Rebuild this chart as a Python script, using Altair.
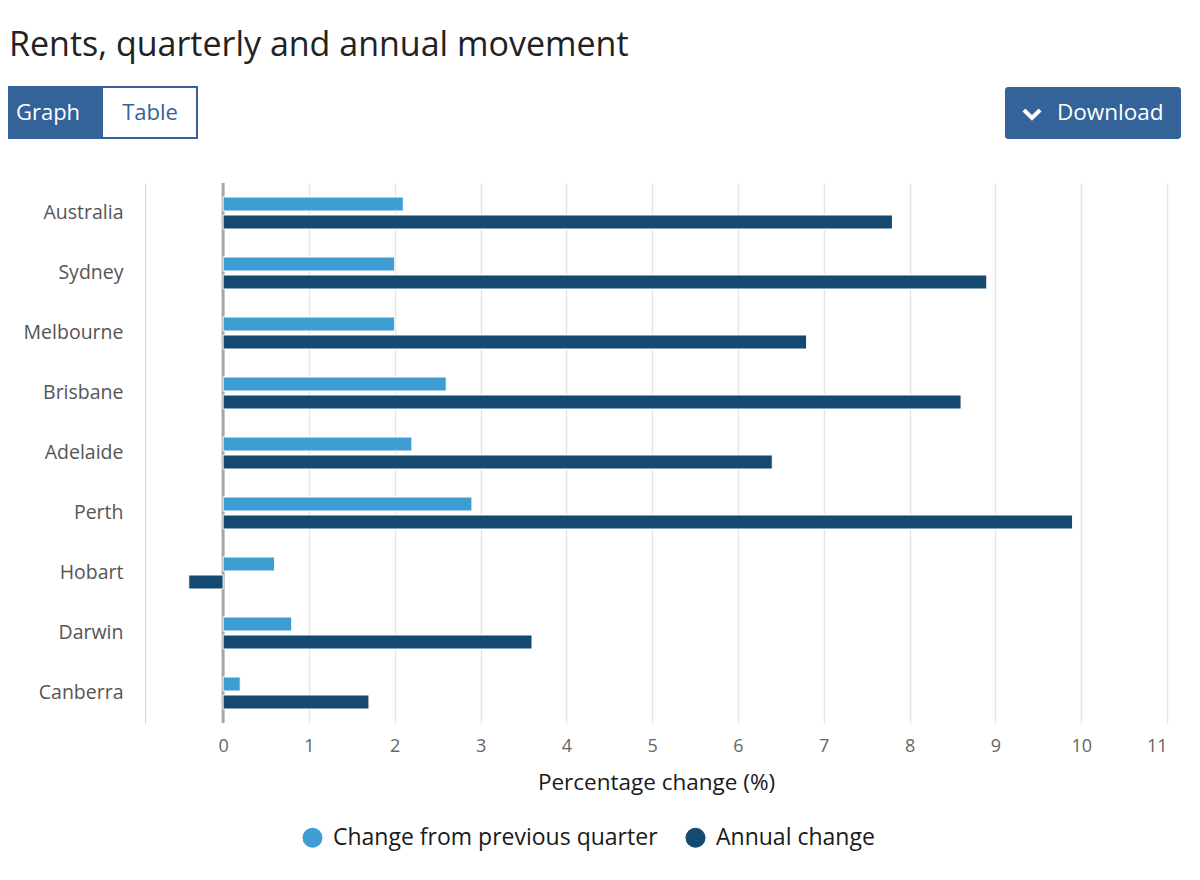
import altair as alt
import pandas as pd

cities = ["Australia", "Sydney", "Melbourne", "Brisbane", "Adelaide", "Perth", "Hobart", "Darwin", "Canberra"]
quarterly = [2.1, 2.0, 2.0, 2.6, 2.2, 2.9, 0.6, 0.8, 0.2]
annual = [7.8, 8.9, 6.8, 8.6, 6.4, 9.9, -0.4, 3.6, 1.7]
series_names = ["Change from previous quarter", "Annual change"]
series_colors = ["#3e9dd3", "#144a70"]
x_ticks = list(range(0, 12))

title_text = "Rents, quarterly and annual movement"
x_title = "Percentage change (%)"

rows = []
for c, q, a in zip(cities, quarterly, annual):
    rows.append({"city": c, "series": series_names[0], "value": q})
    rows.append({"city": c, "series": series_names[1], "value": a})
df = pd.DataFrame(rows)

FONT = "Open Sans"
W, H = 1022, 540
one = pd.DataFrame({"k": [0]})

xscale = alt.Scale(domain=[-0.91, 11], nice=False, zero=False)

bars = alt.Chart(df).mark_bar(stroke="white", strokeWidth=1).encode(
    y=alt.Y("city:N", sort=cities,
            scale=alt.Scale(paddingInner=0.467, paddingOuter=0.2335),
            axis=alt.Axis(title=None, ticks=False, labelFontSize=19.5, labelColor="#555555",
                          labelFont=FONT, labelPadding=22, domainColor="#ccd6eb",
                          domainWidth=1, grid=False)),
    yOffset=alt.YOffset("series:N", sort=series_names,
                        scale=alt.Scale(paddingInner=0.222, paddingOuter=0)),
    x=alt.X("value:Q", scale=xscale,
            axis=alt.Axis(values=x_ticks, format="d", title=x_title, titleFontSize=22.5,
                          titleFontWeight="normal", titleColor="#1a1a1a", titleFont=FONT,
                          labelFontSize=18, labelColor="#666666", labelFont=FONT,
                          labelPadding=14, titlePadding=16, ticks=False, domain=False,
                          grid=True, gridColor="#e6e6e6", gridWidth=1.5)),
    x2=alt.datum(0),
    color=alt.Color("series:N", sort=series_names,
                    scale=alt.Scale(domain=series_names, range=series_colors),
                    legend=alt.Legend(title=None, orient="none", legendX=156, legendY=643,
                                      direction="horizontal", symbolType="circle",
                                      symbolSize=400, symbolStrokeWidth=0, labelLimit=1000,
                                      labelFontSize=23, labelColor="#1a1a1a", labelFont=FONT,
                                      labelOffset=9, columnPadding=26, padding=0)),
)

zero_rule = alt.Chart(one).mark_rule(color="#a6a6a6", strokeWidth=3).encode(
    x=alt.X("z:Q", scale=xscale)
).transform_calculate(z="0")

title_mark = alt.Chart(one).mark_text(
    text=title_text, font=FONT, fontSize=34, color="#222222", align="left", baseline="alphabetic"
).encode(x=alt.value(-136), y=alt.value(-127))

graph_btn = alt.Chart(one).mark_rect(fill="#336398", stroke="#336398", strokeWidth=2).encode(
    x=alt.value(-146), x2=alt.value(-43), y=alt.value(-96), y2=alt.value(-45))
table_btn = alt.Chart(one).mark_rect(fill="white", stroke="#336398", strokeWidth=2).encode(
    x=alt.value(-43), x2=alt.value(52), y=alt.value(-96), y2=alt.value(-45))
graph_txt = alt.Chart(one).mark_text(text="Graph", font=FONT, fontSize=22, color="white",
                                     align="center", baseline="middle").encode(
    x=alt.value(-97), y=alt.value(-70))
table_txt = alt.Chart(one).mark_text(text="Table", font=FONT, fontSize=22, color="#336398",
                                     align="center", baseline="middle").encode(
    x=alt.value(5), y=alt.value(-70))
dl_btn = alt.Chart(one).mark_rect(fill="#336398", cornerRadius=3).encode(
    x=alt.value(860), x2=alt.value(1036), y=alt.value(-96), y2=alt.value(-44))
dl_txt = alt.Chart(one).mark_text(text="Download", font=FONT, fontSize=22.5, color="white",
                                  align="left", baseline="middle").encode(
    x=alt.value(912), y=alt.value(-70))
dl_icon = alt.Chart(one).mark_point(
    shape="M -1 -0.5 L 0 0.5 L 1 -0.5", filled=False, stroke="white", strokeWidth=4,
    size=260, opacity=1
).encode(x=alt.value(887), y=alt.value(-69))

chart = alt.layer(
    zero_rule, bars, title_mark, graph_btn, table_btn, graph_txt, table_txt, dl_btn, dl_txt, dl_icon
).properties(
    width=W, height=H,
    autosize=alt.AutoSizeParams(type="none"),
    padding={"left": 137, "top": 175, "right": 25, "bottom": 149},
).configure(font=FONT).configure_view(strokeWidth=0)

chart.save("out.html", embed_options={"renderer": "svg", "actions": False})
